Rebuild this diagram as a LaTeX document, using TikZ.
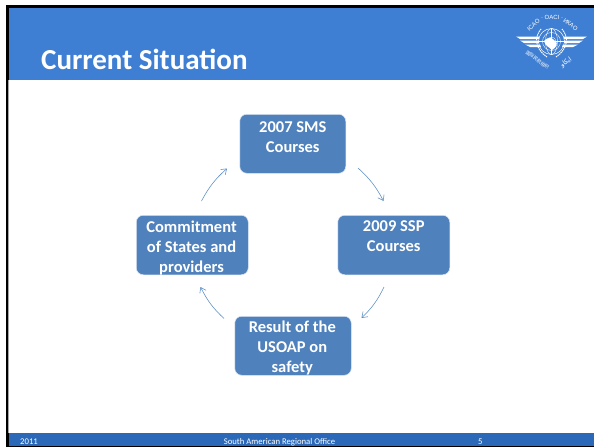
\documentclass[tikz,border=0pt]{standalone}
\usepackage{fontspec}
\setmainfont{Carlito}
\newfontfamily\cjkf{Noto Sans CJK SC}
\newfontfamily\arabf[Script=Arabic]{DejaVu Sans}
\newfontfamily\ringf{Liberation Sans}
\TeXXeTstate=1
\usetikzlibrary{arrows.meta}
\definecolor{headblue}{HTML}{3F7FD3}
\definecolor{footblue}{HTML}{2B69B8}
\definecolor{boxblue}{HTML}{4F81BD}
\definecolor{boxedge}{HTML}{DCE6F2}
\definecolor{arrowblue}{HTML}{5B8DC4}
\tikzset{
  cyclebox/.style={rectangle,rounded corners=7pt,fill=boxblue,draw=boxedge,line width=.5pt,inner sep=0pt,anchor=north west},
  boxtext/.style={text=white,font=\fontsize{16.5}{20}\selectfont\bfseries,align=center,anchor=north,inner sep=0pt},
  cyclearrow/.style={arrowblue,line width=.55pt,-{Straight Barb[length=5pt,width=7pt,line width=.55pt]}},
  foottext/.style={text=white,font=\fontsize{8.7}{10}\selectfont,anchor=base west,inner sep=0pt},
  emblem/.style={white,line width=.7pt},
  ringtext/.style={text=white,font=\fontsize{6}{7}\ringf,inner sep=0pt}
}
\begin{document}
\begin{tikzpicture}[x=1pt,y=-1pt]
\useasboundingbox (0,0) rectangle (594,447);
\fill[white] (0,0) rectangle (594,447);
% frame
\fill[black] (6,5) rectangle (594,447);
\fill[white] (9,8) rectangle (594,446);
\fill[gray!70] (7.5,80) rectangle (9,433);
\fill[headblue] (9,8) rectangle (594,80);
\fill[footblue] (9,433) rectangle (594,446);
% title
\node[text=white,font=\fontsize{29}{32}\selectfont\bfseries,anchor=base west,inner sep=0pt] (title) at (41,69.5) {Current Situation};
% footer
\node[foottext] (f1) at (20,444) {2011};
\node[foottext,anchor=base] (f2) at (279.5,444) {South American Regional Office};
\node[foottext] (f3) at (478,444) {5};
% boxes
\node[cyclebox,minimum width=106pt,minimum height=59pt] (top) at (239.5,114) {};
\node[cyclebox,minimum width=112pt,minimum height=59.5pt] (right) at (337.5,215) {};
\node[cyclebox,minimum width=116.5pt,minimum height=59pt] (bottom) at (234.5,316) {};
\node[cyclebox,minimum width=112pt,minimum height=59.5pt] (left) at (136,215) {};
\node[boxtext,yshift=-7.5pt] (ttop) at (top.north) {2007 SMS\\Courses};
\node[boxtext,yshift=-5.5pt] (tright) at (right.north) {2009 SSP\\Courses};
\node[boxtext,yshift=-4.7pt,xshift=-.7pt] (tbottom) at (bottom.north) {Result of the\\USOAP on\\safety};
\node[boxtext,yshift=-5.5pt,xshift=-.7pt] (tleft) at (left.north) {Commitment\\of States and\\providers};
% arrows
\coordinate (a1s) at (358,168); \coordinate (a1e) at (383.5,201);
\coordinate (a2s) at (384,287); \coordinate (a2e) at (361.5,318);
\coordinate (a3s) at (224,318.5); \coordinate (a3e) at (200.5,287);
\coordinate (a4s) at (201.5,201); \coordinate (a4e) at (227,168.5);
\draw[cyclearrow] (a1s) to[bend left=10] (a1e);
\draw[cyclearrow] (a2s) to[bend left=10] (a2e);
\draw[cyclearrow] (a3s) to[bend left=10] (a3e);
\draw[cyclearrow] (a4s) to[bend left=10] (a4e);
% ICAO emblem
\coordinate (gc) at (551.5,41.5);
\draw[emblem,line width=.5pt] (gc) circle (13);
\draw[emblem,line width=.35pt] (gc) circle (9);
\draw[emblem,line width=.35pt] (gc) circle (4.5);
\draw[emblem,line width=.35pt] (gc) ellipse (6 and 13);
\draw[emblem,line width=.35pt] (538.5,41.5) -- (564.5,41.5);
\draw[emblem,line width=.35pt] (551.5,28.5) -- (551.5,54.5);
\fill[white] (544,41) .. controls (548,36) and (553,38) .. (555,41) .. controls (559,43) and (556,48) .. (552,50) .. controls (549,47) and (545,46) .. (544,41);
% wings
\fill[white] (516,36.5) -- (539,36.5) -- (539,39) -- (520,39) -- cycle;
\fill[white] (520,40.5) -- (539,40.5) -- (539,43) -- (524,43) -- cycle;
\fill[white] (525,44.5) -- (540,44.5) -- (541,47) -- (530,47) -- cycle;
\fill[white] (587,36.5) -- (564,36.5) -- (564,39) -- (583,39) -- cycle;
\fill[white] (583,40.5) -- (564,40.5) -- (564,43) -- (579,43) -- cycle;
\fill[white] (578,44.5) -- (563,44.5) -- (562,47) -- (573,47) -- cycle;
% laurel
\draw[emblem,line width=1pt,dash pattern=on 1.4pt off .7pt] (541,29) .. controls (534,37) and (535,49) .. (547,57);
\draw[emblem,line width=1pt,dash pattern=on 1.4pt off .7pt] (562,29) .. controls (569,37) and (568,49) .. (556,57);
% emblem texts
\node[ringtext,rotate=42] (ricao) at (533.5,25) {ICAO};
\node[ringtext] (roaci) at (552,17.5) {· OACI ·};
\node[ringtext,rotate=-38] (rikao) at (570.5,24.5) {ИКАО};
\node[text=white,font=\fontsize{4.6}{5}\cjkf,rotate=-37,inner sep=0pt] (rcn) at (537.5,60) {国际民航组织};
\node[text=white,font=\fontsize{6.5}{7}\arabf,rotate=36,inner sep=0pt] (rar) at (566,62.5) {\beginR ايكاو\endR};
\end{tikzpicture}
\end{document}
